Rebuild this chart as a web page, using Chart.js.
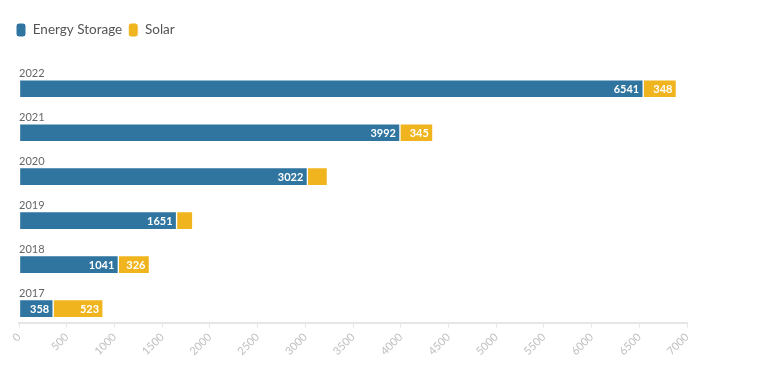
<!DOCTYPE html>
<html>
<head>
<meta charset="utf-8">
<script src="https://cdn.jsdelivr.net/npm/chart.js@4"></script>
<style>
  html, body { margin: 0; background: #fff; }
  #wrap { width: 784px; height: 387px; }
</style>
</head>
<body>
<div id="wrap"><canvas id="chart"></canvas></div>
<script>
// Years, top to bottom
const years = ['2022', '2021', '2020', '2019', '2018', '2017'];
// Capacity values per series
const energyStorage = [6541, 3992, 3022, 1651, 1041, 358];
const solar = [348, 345, 210, 170, 326, 523];

const blue = '#2f75a0';
const yellow = '#f0b41e';

// year label above each bar, left aligned
const yearLabels = {
    id: 'yearLabels',
    afterDatasetsDraw(chart) {
        const { ctx, chartArea, scales } = chart;
        ctx.save();
        ctx.font = '11px Lato';
        ctx.fillStyle = '#666';
        ctx.textAlign = 'left';
        ctx.textBaseline = 'bottom';
        years.forEach((yr, i) => {
            ctx.fillText(yr, chartArea.left, scales.y.getPixelForValue(i) - 10);
        });
        ctx.restore();
    }
};

// value labels inside the end of each segment, only if they fit
const valueLabels = {
    id: 'valueLabels',
    afterDatasetsDraw(chart) {
        const { ctx } = chart;
        ctx.save();
        ctx.font = 'bold 11px Lato';
        ctx.fillStyle = '#fff';
        ctx.textAlign = 'right';
        ctx.textBaseline = 'middle';
        chart.data.datasets.forEach((ds, di) => {
            chart.getDatasetMeta(di).data.forEach((bar, i) => {
                const txt = String(ds.data[i].x);
                const w = bar.x - bar.base;
                if (w > ctx.measureText(txt).width + 10) {
                    ctx.fillText(txt, bar.x - 4, bar.y + 1);
                }
            });
        });
        ctx.restore();
    }
};

new Chart(document.getElementById('chart'), {
    type: 'bar',
    data: {
        datasets: [{
            label: 'Energy Storage',
            data: energyStorage.map((v, i) => ({ x: v, y: i })),
            backgroundColor: blue,
            borderColor: '#fff',
            borderWidth: 1,
            borderSkipped: false,
            barThickness: 18
        }, {
            label: 'Solar',
            data: solar.map((v, i) => ({ x: v, y: i })),
            backgroundColor: yellow,
            borderColor: '#fff',
            borderWidth: 1,
            borderSkipped: false,
            barThickness: 18
        }]
    },
    options: {
        indexAxis: 'y',
        responsive: true,
        maintainAspectRatio: false,
        animation: false,
        layout: { padding: { left: 10, right: 97, top: 17, bottom: 26 } },
        plugins: {
            legend: {
                align: 'start',
                labels: {
                    boxWidth: 10,
                    boxHeight: 14,
                    useBorderRadius: true,
                    borderRadius: 3,
                    color: '#555',
                    font: { family: 'Lato', size: 13.5 },
                    padding: 6
                }
            },
            tooltip: { enabled: false }
        },
        scales: {
            x: {
                stacked: true,
                min: 0,
                max: 7000,
                ticks: {
                    stepSize: 500,
                    minRotation: 45,
                    maxRotation: 45,
                    color: '#c0c0c0',
                    font: { family: 'Lato', size: 11 },
                    callback: v => String(v)
                },
                grid: { drawOnChartArea: false, color: '#e6e6e6', tickLength: 5 },
                border: { color: '#e6e6e6', width: 2 }
            },
            y: {
                type: 'linear',
                stacked: true,
                reverse: true,
                offset: false,
                min: -0.95,
                max: 5.32,
                ticks: { display: false },
                grid: { display: false },
                border: { display: false },
                afterFit(scale) { scale.width = 9; }
            }
        }
    },
    plugins: [yearLabels, valueLabels]
});
</script>
</body>
</html>
